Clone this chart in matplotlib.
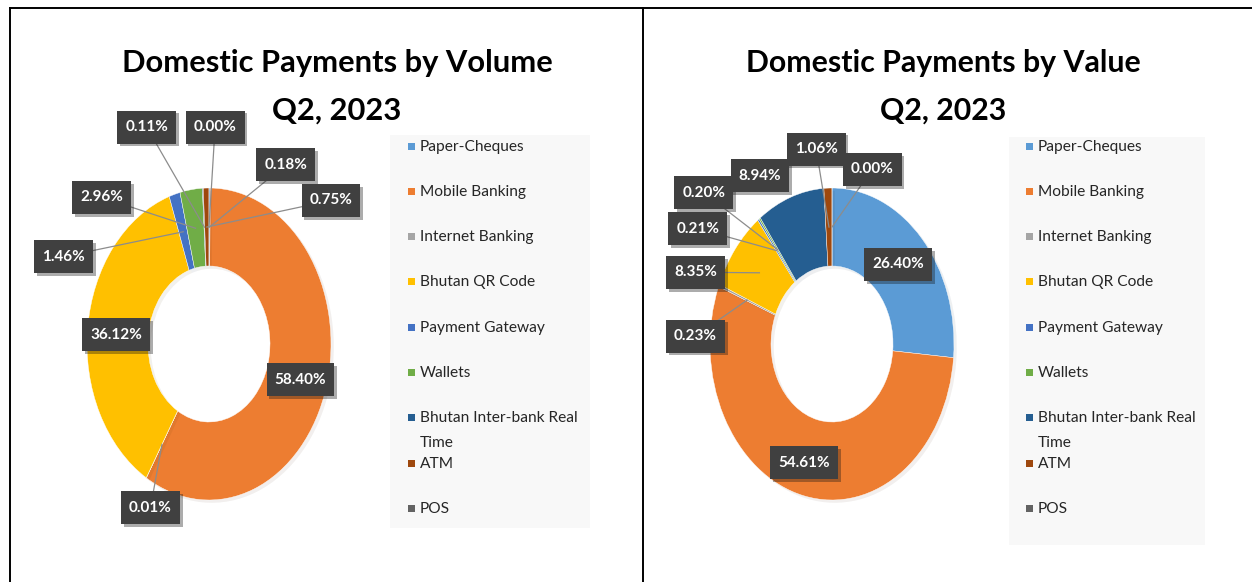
import numpy as np
import matplotlib
matplotlib.use("Agg")
import matplotlib.pyplot as plt
import matplotlib.patheffects as pe
from matplotlib import font_manager
from matplotlib.patches import Rectangle

# Data
categories = ["Paper-Cheques", "Mobile Banking", "Internet Banking", "Bhutan QR Code",
              "Payment Gateway", "Wallets", "Bhutan Inter-bank Real\nTime", "ATM", "POS"]
volume_pct = [0.18, 58.40, 0.01, 36.12, 1.46, 2.96, 0.11, 0.75, 0.00]
value_pct = [26.40, 54.61, 0.23, 8.35, 0.21, 0.20, 8.94, 1.06, 0.00]
title_lines = [["Domestic Payments by Volume", "Q2, 2023"],
               ["Domestic Payments by Value", "Q2, 2023"]]

colors = ["#5B9BD5", "#ED7D31", "#A5A5A5", "#FFC000", "#4472C4",
          "#70AD47", "#255E91", "#9E480E", "#636363"]

# Label placement (donut units, radius = 1) and whether a leader line is drawn
vol_label_xy = [(0.63, 1.15), (0.75, -0.23), (-0.48, -1.05), (-0.76, 0.06), (-1.19, 0.56),
                (-0.88, 0.94), (-0.51, 1.39), (1.00, 0.92), (0.05, 1.39)]
vol_leader = [True, False, True, False, True, True, True, True, True]
val_label_xy = [(0.54, 0.51), (-0.23, -0.76), (-1.12, 0.05), (-1.12, 0.46), (-1.10, 0.74),
                (-1.05, 0.97), (-0.59, 1.08), (-0.13, 1.25), (0.33, 1.12)]
val_leader = [False, False, True, True, True, True, False, True, True]

W, H = 1252, 582
names = {f.name for f in font_manager.fontManager.ttflist}
FONT = "Liberation Sans Narrow" if "Liberation Sans Narrow" in names else "Lato"
plt.rcParams["font.family"] = [FONT, "DejaVu Sans"]

fig = plt.figure(figsize=(W / 100, H / 100), dpi=100)
fig.patch.set_facecolor("white")

# Pixel-coordinate overlay for borders, titles and legends
bg = fig.add_axes([0, 0, 1, 1], zorder=0)
bg.set_xlim(0, W)
bg.set_ylim(H, 0)
bg.axis("off")

bg.plot([10, W], [8, 8], color="black", lw=1.4)
bg.plot([10, 10], [8, H], color="black", lw=1.4)
bg.plot([643, 643], [8, H], color="black", lw=1.4)

# titles, font size fitted to the measured width of the first line
title_cx = [337, 943]
title_w = [430, 395]
fig.canvas.draw()
renderer = fig.canvas.get_renderer()
for k in range(2):
    t1 = bg.text(title_cx[k], 72, title_lines[k][0], ha="center", va="baseline",
                 fontsize=24, fontweight="bold", color="black")
    w = t1.get_window_extent(renderer=renderer).width
    size = 24 * title_w[k] / w
    t1.set_fontsize(size)
    bg.text(title_cx[k], 120, title_lines[k][1], ha="center", va="baseline",
            fontsize=size, fontweight="bold", color="black")

# legends
legend_box = [(390, 135, 200, 393), (1009, 137, 196, 408)]
legend_marker_x = [408, 1026]
row_y0, row_step = 146, 45.3
for k in range(2):
    x0, y0, bw, bh = legend_box[k]
    bg.add_patch(Rectangle((x0, y0), bw, bh, facecolor="#F8F8F8", edgecolor="none"))
    mx = legend_marker_x[k]
    for i, (cat, col) in enumerate(zip(categories, colors)):
        yc = row_y0 + i * row_step
        bg.add_patch(Rectangle((mx, yc - 3.5), 7, 7, facecolor=col, edgecolor="none"))
        bg.text(mx + 12, yc - 6.5, cat, ha="left", va="top", fontsize=11.2,
                color="#262626", linespacing=2.0)

# donuts
centers = [(209, 344), (832, 344)]
rx, ry = 122, 156
series = [volume_pct, value_pct]
label_xy = [vol_label_xy, val_label_xy]
leaders = [vol_leader, val_leader]

for k in range(2):
    cx, cy = centers[k]
    ax = fig.add_axes([(cx - rx) / W, (H - cy - ry) / H, 2 * rx / W, 2 * ry / H], zorder=2)
    vals = np.array(series[k])
    wedges, _ = ax.pie(vals, colors=colors, startangle=90, counterclock=False, radius=1,
                       wedgeprops=dict(width=0.5, edgecolor="white", linewidth=0.3))
    for wdg in wedges:
        wdg.set_path_effects([pe.SimplePatchShadow(offset=(2, -2), alpha=0.07), pe.Normal()])
    ax.set_aspect("auto")
    ax.set_xlim(-1, 1)
    ax.set_ylim(-1, 1)
    ax.axis("off")

    frac = vals / vals.sum()
    mids = np.cumsum(frac) - frac / 2
    px_x, px_y = 1 / rx, 1 / ry   # one pixel in donut units
    for i, v in enumerate(vals):
        ang = np.deg2rad(90 - 360 * mids[i])
        axp, ayp = 0.75 * np.cos(ang), 0.75 * np.sin(ang)
        lx, ly = label_xy[k][i]
        if leaders[k][i]:
            ax.plot([lx, axp], [ly, ayp], color="#8C8C8C", lw=0.9, zorder=4, clip_on=False)
        t = ax.text(lx, ly, f"{v:.2f}%", ha="center", va="center", color="white",
                    fontsize=11, fontweight="bold", zorder=6, clip_on=False)
        tw = t.get_window_extent(renderer=renderer).width
        bw, bh = (tw + 16) * px_x, 33 * px_y
        box = Rectangle((lx - bw / 2, ly - bh / 2), bw, bh, facecolor="#404040",
                        edgecolor="none", zorder=5, clip_on=False)
        box.set_path_effects([pe.SimplePatchShadow(offset=(2, -2), alpha=0.35), pe.Normal()])
        ax.add_patch(box)

fig.savefig("out.png", dpi=100, facecolor="white")
